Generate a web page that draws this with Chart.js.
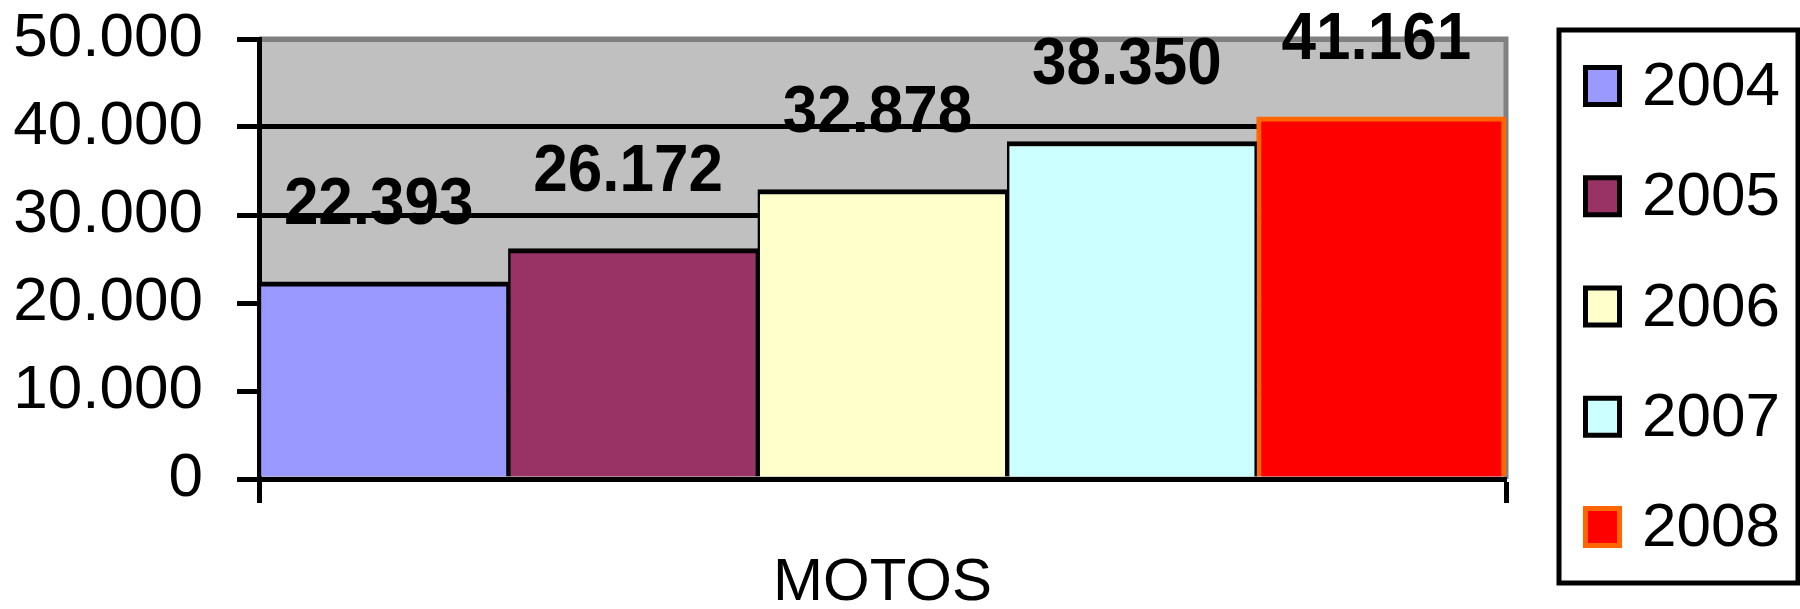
<!DOCTYPE html>
<html>
<head>
<meta charset="utf-8">
<script src="https://cdn.jsdelivr.net/npm/chart.js@4.4.0/dist/chart.umd.min.js"></script>
<style>
	html, body { margin: 0; padding: 0; background: #fff; }
	#wrap { width: 1800px; height: 609px; }
</style>
</head>
<body>
<div id="wrap"><canvas id="chart"></canvas></div>
<script>
/* data */
const categories = ['MOTOS'];
const years = ['2004', '2005', '2006', '2007', '2008'];
const motos = [22393, 26172, 32878, 38350, 41161];
const yTicks = [0, 10000, 20000, 30000, 40000, 50000];

/* colours */
const fills = ['#9999FF', '#993366', '#FFFFCC', '#CCFFFF', '#FF0000'];
const edges = ['#000000', '#000000', '#000000', '#000000', '#FF6600'];

const FONT = "'Liberation Sans', Arial, sans-serif";
const LINE = 5;

const formatNumber = (n) => String(n).replace(/\B(?=(\d{3})+(?!\d))/g, '.');

// grey plot area with its grey top/right frame
const plotBackground = {
	id: 'plotBackground',
	beforeDraw(chart) {
		const { ctx, chartArea: { left, top, right, bottom } } = chart;
		ctx.save();
		ctx.fillStyle = '#C0C0C0';
		ctx.fillRect(left, top, right - left, bottom - top);
		ctx.strokeStyle = '#808080';
		ctx.lineWidth = LINE;
		ctx.beginPath();
		ctx.moveTo(left, top);
		ctx.lineTo(right, top);
		ctx.lineTo(right, bottom);
		ctx.stroke();
		ctx.restore();
	},
};

// bold value over each bar (slightly tall, like the original)
const valueLabels = {
	id: 'valueLabels',
	afterDatasetsDraw(chart) {
		const { ctx } = chart;
		chart.data.datasets.forEach((ds, i) => {
			const bar = chart.getDatasetMeta(i).data[0];
			ctx.save();
			ctx.font = `bold 62px ${FONT}`;
			ctx.fillStyle = '#000';
			ctx.textAlign = 'center';
			ctx.textBaseline = 'middle';
			ctx.translate(bar.x - 5, bar.y - 76);
			ctx.scale(1, 1.08);
			ctx.fillText(formatNumber(ds.data[0]), 0, 0);
			ctx.restore();
		});
	},
};

// framed legend on the right
const boxLegend = {
	id: 'boxLegend',
	afterDraw(chart) {
		const { ctx } = chart;
		const left = 1559, top = 30, right = 1798, bottom = 583;
		const step = 110.25;
		const mid = (top + bottom) / 2;
		ctx.save();
		ctx.lineWidth = LINE;
		ctx.strokeStyle = '#000';
		ctx.strokeRect(left, top, right - left, bottom - top);
		ctx.font = `62px ${FONT}`;
		ctx.textAlign = 'left';
		ctx.textBaseline = 'middle';
		chart.data.datasets.forEach((ds, i) => {
			const cy = mid + (i - 2) * step;
			ctx.fillStyle = ds.borderColor;
			ctx.fillRect(1583, cy - 21, 39, 42);
			ctx.fillStyle = ds.backgroundColor;
			ctx.fillRect(1588, cy - 16, 29, 32);
			ctx.fillStyle = '#000';
			ctx.fillText(ds.label, 1642, cy + 2);
		});
		ctx.restore();
	},
};

const datasets = years.map((year, i) => ({
	label: year,
	data: [motos[i]],
	backgroundColor: fills[i],
	borderColor: edges[i],
	borderWidth: i === 4 ? { top: 5, left: 5, right: 5, bottom: 0 } : { top: 5, left: 2.5, right: 2.5, bottom: 0 },
	borderSkipped: 'start',
	categoryPercentage: 1,
	barPercentage: 1,
}));

new Chart(document.getElementById('chart'), {
	type: 'bar',
	data: { labels: categories, datasets },
	options: {
		responsive: true,
		maintainAspectRatio: false,
		animation: false,
		layout: { padding: { left: 0, top: 39, right: 294, bottom: 0 } },
		plugins: {
			legend: { display: false },
			tooltip: { enabled: false },
		},
		scales: {
			x: {
				z: 1,
				ticks: { font: { family: FONT, size: 60 }, color: '#000', padding: 44 },
				grid: { drawOnChartArea: false, offset: true, tickLength: 24, tickColor: '#000', tickWidth: LINE },
				border: { color: '#000', width: LINE },
				afterFit: (scale) => { scale.height = 130; },
			},
			y: {
				min: 0,
				max: 50000,
				afterBuildTicks: (scale) => { scale.ticks = yTicks.map((value) => ({ value })); },
				ticks: {
					font: { family: FONT, size: 62 },
					color: '#000',
					padding: 34,
					callback: (v) => formatNumber(v),
				},
				grid: {
					color: (c) => (c.tick && c.tick.value === 50000 ? '#808080' : '#000'),
					lineWidth: LINE,
					tickLength: 22,
					tickColor: '#000',
					tickWidth: LINE,
				},
				border: { color: '#000', width: LINE },
				afterFit: (scale) => {
					scale.width = 259;
					scale.paddingTop = 0;
					scale.paddingBottom = 0;
				},
			},
		},
	},
	plugins: [plotBackground, valueLabels, boxLegend],
});
</script>
</body>
</html>
